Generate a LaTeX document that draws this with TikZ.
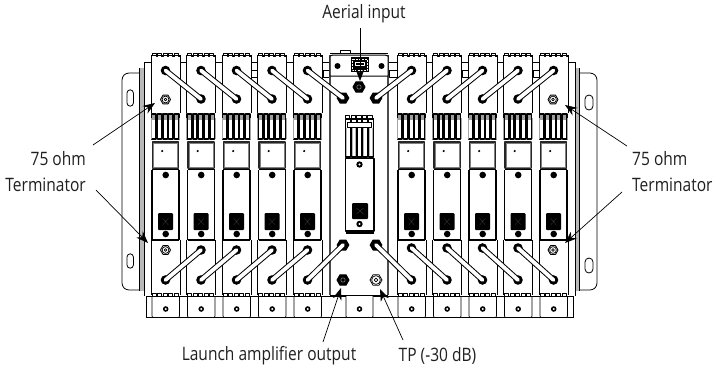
\documentclass[tikz,border=0pt]{standalone}
\usepackage{fontspec}
\setmainfont[FakeStretch=0.84]{Open Sans}
\usetikzlibrary{arrows.meta}
\definecolor{labelgrey}{gray}{0.12}
\tikzset{
  lbl/.style={font=\fontsize{18.5}{26}\selectfont,text=labelgrey,inner sep=0pt},
  lead/.style={line width=0.7pt,draw=black,-{Stealth[length=12pt,width=9pt]}},
  thin part/.style={line width=0.6pt,draw=black},
  med part/.style={line width=1.1pt,draw=black},
  thick part/.style={line width=1.9pt,draw=black},
}
% capsule bar
\newcommand{\capbar}[4]{%
  \draw[line width=5.8pt,black] (#1,#2)--(#3,#4);
  \fill (#1,#2) circle (4.8);
  \fill (#3,#4) circle (4.8);
  \draw[line width=3.8pt,line cap=round,white] (#1,#2)--(#3,#4);}
% hexagon
\newcommand{\hexn}[4]{%
  \begin{scope}[shift={(#1,#2)}]
  \draw[line width=1pt,fill=#3] (6,0)--(3,5.2)--(-3,5.2)--(-6,0)--(-3,-5.2)--(3,-5.2)--cycle;
  \draw[line width=0.6pt,draw=#4,fill=#3] (0,0) circle (2.2);
  \end{scope}}
\newcommand{\termin}[2]{%
  \begin{scope}[shift={(#1,#2)}]
  \draw[line width=0.9pt,fill=white] (5,0)--(2.5,4.4)--(-2.5,4.4)--(-5,0)--(-2.5,-4.4)--(2.5,-4.4)--cycle;
  \draw[line width=0.7pt] (0,0) circle (3.4);
  \draw[line width=0.8pt] (0,0) circle (1.4);
  \end{scope}}
% crenellation
\newcommand{\crenel}[1]{%
  \draw[line width=1pt] (1,#1) \foreach \k in {0,1,2,3,4} { -- ++(0,-2.6) -- ++(4.2,0) -- ++(0,2.6) -- ++(1.3,0)};}
% module
\newcommand{\modul}[1]{%
  \begin{scope}[shift={(#1,0)}]
  \fill[white] (0,55) rectangle (29,295);
  \draw[thin part] (0,55)--(0,113) (29,55)--(29,113);
  \draw[thin part] (0,240)--(0,295) (29,240)--(29,295);
  \crenel{56}
  \draw[line width=1pt] (0,55)--(29,55);
  \crenel{296}
  % vents
  \foreach \k in {0,5.7,11.4,17.1,22.8} {
    \fill[gray!75] (\k+.6,114) rectangle (\k+5,120);
    \draw[line width=1.5pt] (\k+.6,114) rectangle (\k+5,139);}
  \fill[gray!70] (-.4,118) rectangle (.6,139);
  \fill[gray!70] (28,118) rectangle (29,139);
  % white box
  \draw[line width=1.2pt,draw=black!85] (1.5,142) rectangle (27.5,168);
  \draw[line width=0.6pt,draw=gray] (2.7,143.2) rectangle (26.3,166.8);
  \fill (11.2,151) circle (1.2);
  % lower body
  \draw[thick part] (1,170)--(1,240) (28,170)--(28,240);
  \draw[thick part] (1,169.5)--(28,169.5);
  \draw[med part] (1,240)--(28,240);
  \fill (14.7,175) circle (3.3);
  \fill[rounded corners=1pt] (7,213) rectangle (22,230);
  \draw[gray!60,line width=0.3pt,densely dotted] (11.5,218)--(17.5,225) (17.5,218)--(11.5,225);
  \fill (14.7,234) circle (3.3);
  % tab
  \draw[line width=0.6pt,rounded corners=1.2pt] (1,297)--(1,317.5)--(28.5,317.5)--(28.5,297);
  \fill (14.7,309) circle (2.8);
  \fill[white] (14.7,309) circle (1.1);
  \end{scope}}
\begin{document}
\begin{tikzpicture}[x=1pt,y=-1pt,line join=round]
\useasboundingbox (0,0) rectangle (715,368);
% flanges
\draw[line width=0.8pt,rounded corners=3pt,fill=white] (141,73)--(126,73)--(122,77)--(122,286)--(126,290)--(141,290);
\draw[line width=0.8pt,rounded corners=3pt,fill=white] (575,73)--(593,73)--(597,77)--(597,286)--(593,290)--(575,290);
\fill[gray!55] (139.5,68) rectangle (144,291);
\draw[line width=0.7pt] (139.5,68)--(139.5,291) (144,62)--(144,296);
\fill[gray!55] (575,68) rectangle (579,291);
\draw[line width=0.7pt] (579,68)--(579,291) (575,62)--(575,296);
\draw[line width=0.8pt] (127,93) arc (180:360:3.2)--(133.4,103) arc (0:180:3.2)--cycle;
\draw[line width=0.8pt] (127,257) arc (180:360:3.2)--(133.4,265) arc (0:180:3.2)--cycle;
\draw[line width=0.8pt] (585,99) arc (180:360:4)--(593,106) arc (0:180:4)--cycle;
\draw[line width=0.8pt] (585,262) arc (180:360:4)--(593,269) arc (0:180:4)--cycle;
% chassis
\draw[line width=0.7pt] (144,62.5)--(575,62.5);
\draw[line width=0.7pt] (146,296)--(573,296);
\draw[line width=0.9pt] (146,317.5)--(573,317.5);
\draw[line width=0.7pt] (146,296)--(146,317.5) (573,296)--(573,317.5);
\foreach \xa/\xb in {251/258,323/330,389/397,462/468,533/539}{
  \draw[line width=0.8pt,fill=white] (\xa,70) rectangle (\xb,77);}
% centre panel
\fill[white] (330,55) rectangle (388,295);
\draw[line width=1.3pt,draw=black!70] (330,55)--(330,295) (388,55)--(388,295);
\draw[thin part] (330,295)--(388,295);
\draw[line width=1pt,fill=white] (330,56)--(333,55)--(385,55)--(388,56)--(388,76)--(330,76)--cycle;
\draw[line width=0.8pt,fill=white] (340,53) rectangle (350,50);
\draw[line width=1pt] (330,53.5)--(388,53.5);
\fill (337.5,66) circle (3);
\fill (381.5,66) circle (3);
\fill (350.5,57) rectangle (368.5,72);
\draw[white,line width=0.5pt,densely dotted] (352,59) rectangle (367,70);
\draw[white,line width=0.7pt] (355,65)--(364,65)--(364,62)--(355,62)--cycle;
% centre module
\begin{scope}[shift={(345.5,0)}]
  \draw[line width=1pt] (0,118) \foreach \k in {0,1,2,3,4} { -- ++(0,-2.6) -- ++(4.4,0) -- ++(0,2.6) -- ++(1.2,0)};
  \foreach \k in {0,5.7,11.4,17.1,22.8} {
    \fill[gray!55] (\k+.2,128) rectangle (\k+5.2,157);
    \fill[white] (\k+1.4,128) rectangle (\k+4,157);
    \draw[line width=1.3pt] (\k+.2,119) rectangle (\k+5.2,157);}
  \draw[line width=1pt,fill=white] (2,122) rectangle (26,127.5);
  \draw[thick part,fill=white] (0,158.5) rectangle (28.5,231);
  \draw[med part] (0,233)--(28.5,233);
  \fill (14,164.5) circle (3.2);
  \fill[white] (14,164.5) circle (1.1);
  \fill[rounded corners=1pt] (6.5,203) rectangle (22.5,219);
  \draw[gray!60,line width=0.3pt,densely dotted] (11,208)--(18,214) (18,208)--(11,214);
  \fill (14,224) circle (3.2);
  \fill[white] (14,224) circle (1.1);
\end{scope}
% modules
\foreach \m in {151,186.5,222,257.5,293,397,432.5,468,503.5,539}{\modul{\m}}
% centre tab
\draw[line width=0.7pt,rounded corners=1.2pt,fill=white] (346,296)--(346,317.5)--(373,317.5)--(373,296);
\fill (359.5,309) circle (2.8);\fill[white] (359.5,309) circle (1.1);
% diagonal bars
\foreach \m in {151,186.5,222,257.5}{
  \pgfmathsetmacro{\ax}{\m+14.5}\pgfmathsetmacro{\bx}{\m+50}
  \capbar{\ax}{70.5}{\bx}{99}
  \capbar{\ax}{280}{\bx}{250}}
\foreach \m in {432.5,468,503.5,539}{
  \pgfmathsetmacro{\ax}{\m+14.5}\pgfmathsetmacro{\bx}{\m-21}
  \capbar{\ax}{70.5}{\bx}{99}
  \capbar{\ax}{280}{\bx}{248}}
% bars ending at the centre panel: thick hexagonal ends
\foreach \ex/\ey/\sx/\sy in {343/98/307.5/70.5,376/98/411.5/70.5,343/245/307.5/280,376/245/411.5/280}{
  \begin{scope}[shift={(\ex,\ey)}]
    \fill (6.4,0)--(3.2,5.5)--(-3.2,5.5)--(-6.4,0)--(-3.2,-5.5)--(3.2,-5.5)--cycle;
  \end{scope}
  \capbar{\sx}{\sy}{\ex}{\ey}}
% connectors
\hexn{359}{87}{black}{gray}
\hexn{343}{280}{black}{gray}
\begin{scope}[shift={(376,280)}]
  \draw[line width=0.8pt,fill=white] (6,0)--(3,5.2)--(-3,5.2)--(-6,0)--(-3,-5.2)--(3,-5.2)--cycle;
  \draw[line width=0.7pt] (0,0) circle (4.4);
  \draw[line width=0.7pt] (0,0) circle (1.8);
\end{scope}
\termin{165.5}{99.5}
\termin{165.5}{250}
\termin{553}{99.5}
\termin{553}{250}
% labels
\node[lbl] (aerial) at (364,14) {Aerial input};
\node[lbl] (launch) at (269,356) {Launch amplifier output};
\node[lbl] (tp) at (437.5,356) {TP (-30 dB)};
\node[lbl,align=right,anchor=east] (termL) at (86,171.5) {75 ohm\\Terminator};
\node[lbl,align=left,anchor=west] (termR) at (632,171.5) {75 ohm\\Terminator};
% targets and free ends
\coordinate (tAerial) at (360,81);
\coordinate (sAerial) at (360,28);
\coordinate (tLaunch) at (341,288);
\coordinate (sLaunch) at (323,342);
\coordinate (tTP) at (380,289);
\coordinate (sTP) at (403,340);
\coordinate (tLU) at (155,103);
\coordinate (tLD) at (148,243);
\coordinate (tRU) at (565,105);
\coordinate (tRD) at (565,243);
\coordinate (sLU) at (93,145);
\coordinate (sLD) at (96,190);
\coordinate (sRU) at (627,146);
\coordinate (sRD) at (622,192);
\draw[lead] (sAerial) -- (tAerial);
\draw[lead] (sLaunch) -- (tLaunch);
\draw[lead] (sTP) -- (tTP);
\draw[lead] (sLU) -- (tLU);
\draw[lead] (sLD) -- (tLD);
\draw[lead] (sRU) -- (tRU);
\draw[lead] (sRD) -- (tRD);
\end{tikzpicture}
\end{document}
